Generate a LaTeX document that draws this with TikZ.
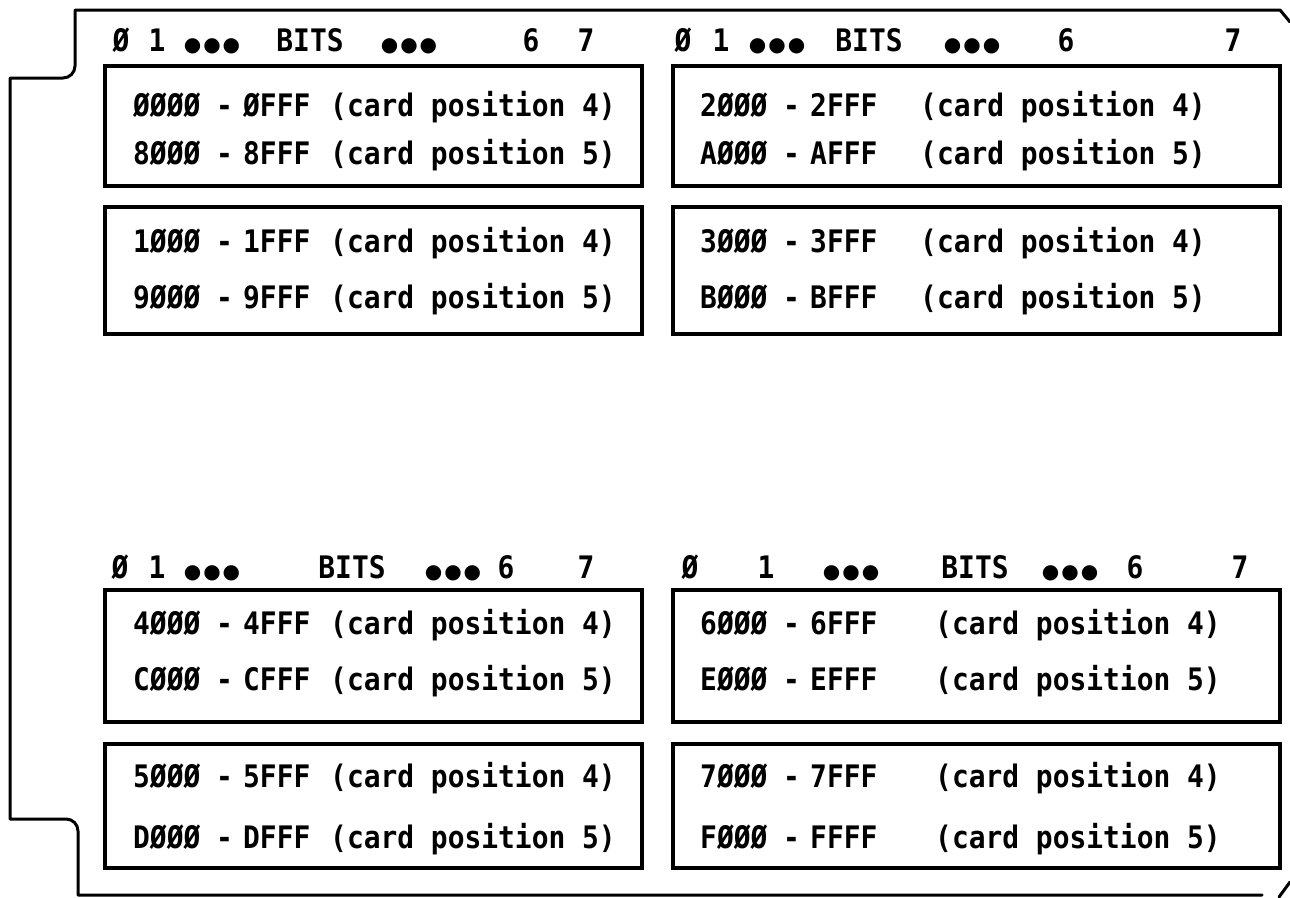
\documentclass[tikz,border=0pt]{standalone}
\usepackage{fontspec}
\newfontfamily\monofnt{DejaVu Sans Mono}[FakeStretch=0.9]
\newfontfamily\dotfnt{DejaVu Sans}
\newcommand{\addrrow}[7]{%
  \node[txt] (#1a) at (#3,#2) {#4};
  \node[txt] (#1d) at (#3+83,#2) {-};
  \node[txt] (#1b) at (#3+110,#2) {#5};
  \node[txt] (#1c) at (#6,#2) {(card position #7)};
}
\newcommand{\bitsrow}[9]{%
  \node[hdr] (#1z) at (#3,#2) {Ø};
  \node[hdr] (#1o) at (#4,#2) {1};
  \node[dots] (#1p) at (#5,#2) {●\kern2pt●\kern2pt●};
  \node[hdr] (#1b) at (#6,#2) {BITS};
  \node[dots] (#1q) at (#7,#2) {●\kern2pt●\kern2pt●};
  \node[hdr] (#1s) at (#8,#2) {6};
  \node[hdr] (#1e) at (#9,#2) {7};
}
\begin{document}
\begin{tikzpicture}[x=1pt,y=-1pt,
  txt/.style={anchor=base west,inner sep=0pt,font=\monofnt\bfseries\fontsize{31}{33}\selectfont},
  hdr/.style={anchor=base,inner sep=0pt,font=\monofnt\bfseries\fontsize{31}{33}\selectfont},
  dots/.style={anchor=base,inner sep=0pt,font=\dotfnt\fontsize{20}{22}\selectfont},
  box/.style={draw,line width=3.6pt,inner sep=0pt,anchor=north west},
  outline/.style={draw,line width=3pt,line join=round,line cap=round}]
\useasboundingbox (0,0) rectangle (1290,897);
% outer card outline
\draw[outline] (1290,22) -- (1280,10) -- (75,10) -- (75,66) to[out=-90,in=0] (63,78) -- (10,78)
  -- (10,819) -- (66,819) to[out=0,in=90] (78,831) -- (78,895) -- (1262,895);
\draw[outline] (1279,897) -- (1290,882);
% boxes
\node[box,minimum width=537,minimum height=120] (b1) at (103,64) {};
\node[box,minimum width=537,minimum height=127] (b2) at (103,205) {};
\node[box,minimum width=607,minimum height=120] (b3) at (671,64) {};
\node[box,minimum width=607,minimum height=127] (b4) at (671,205) {};
\node[box,minimum width=537,minimum height=132] (b5) at (103,588) {};
\node[box,minimum width=537,minimum height=124] (b6) at (103,742) {};
\node[box,minimum width=607,minimum height=132] (b7) at (671,588) {};
\node[box,minimum width=607,minimum height=124] (b8) at (671,742) {};
% headers
\bitsrow{h1}{51}{121}{157}{212}{310}{409}{531}{586}
\bitsrow{h2}{51}{683}{721}{777}{869}{972}{1066}{1233}
\bitsrow{h3}{578}{120}{157}{212}{352}{453}{506}{586}
\bitsrow{h4}{578}{690}{766}{851}{975}{1070}{1135}{1240}
% address rows
\addrrow{ra}{116}{133}{ØØØØ}{ØFFF}{330}{4}
\addrrow{rb}{164}{133}{8ØØØ}{8FFF}{330}{5}
\addrrow{rc}{252}{133}{1ØØØ}{1FFF}{330}{4}
\addrrow{rd}{308}{133}{9ØØØ}{9FFF}{330}{5}
\addrrow{re}{116}{700}{2ØØØ}{2FFF}{920}{4}
\addrrow{rf}{164}{700}{AØØØ}{AFFF}{920}{5}
\addrrow{rg}{252}{700}{3ØØØ}{3FFF}{920}{4}
\addrrow{rh}{308}{700}{BØØØ}{BFFF}{920}{5}
\addrrow{ri}{634}{133}{4ØØØ}{4FFF}{330}{4}
\addrrow{rj}{690}{133}{CØØØ}{CFFF}{330}{5}
\addrrow{rk}{787}{133}{5ØØØ}{5FFF}{330}{4}
\addrrow{rl}{848}{133}{DØØØ}{DFFF}{330}{5}
\addrrow{rm}{634}{700}{6ØØØ}{6FFF}{935}{4}
\addrrow{rn}{690}{700}{EØØØ}{EFFF}{935}{5}
\addrrow{ro}{787}{700}{7ØØØ}{7FFF}{935}{4}
\addrrow{rp}{848}{700}{FØØØ}{FFFF}{935}{5}
\end{tikzpicture}
\end{document}
